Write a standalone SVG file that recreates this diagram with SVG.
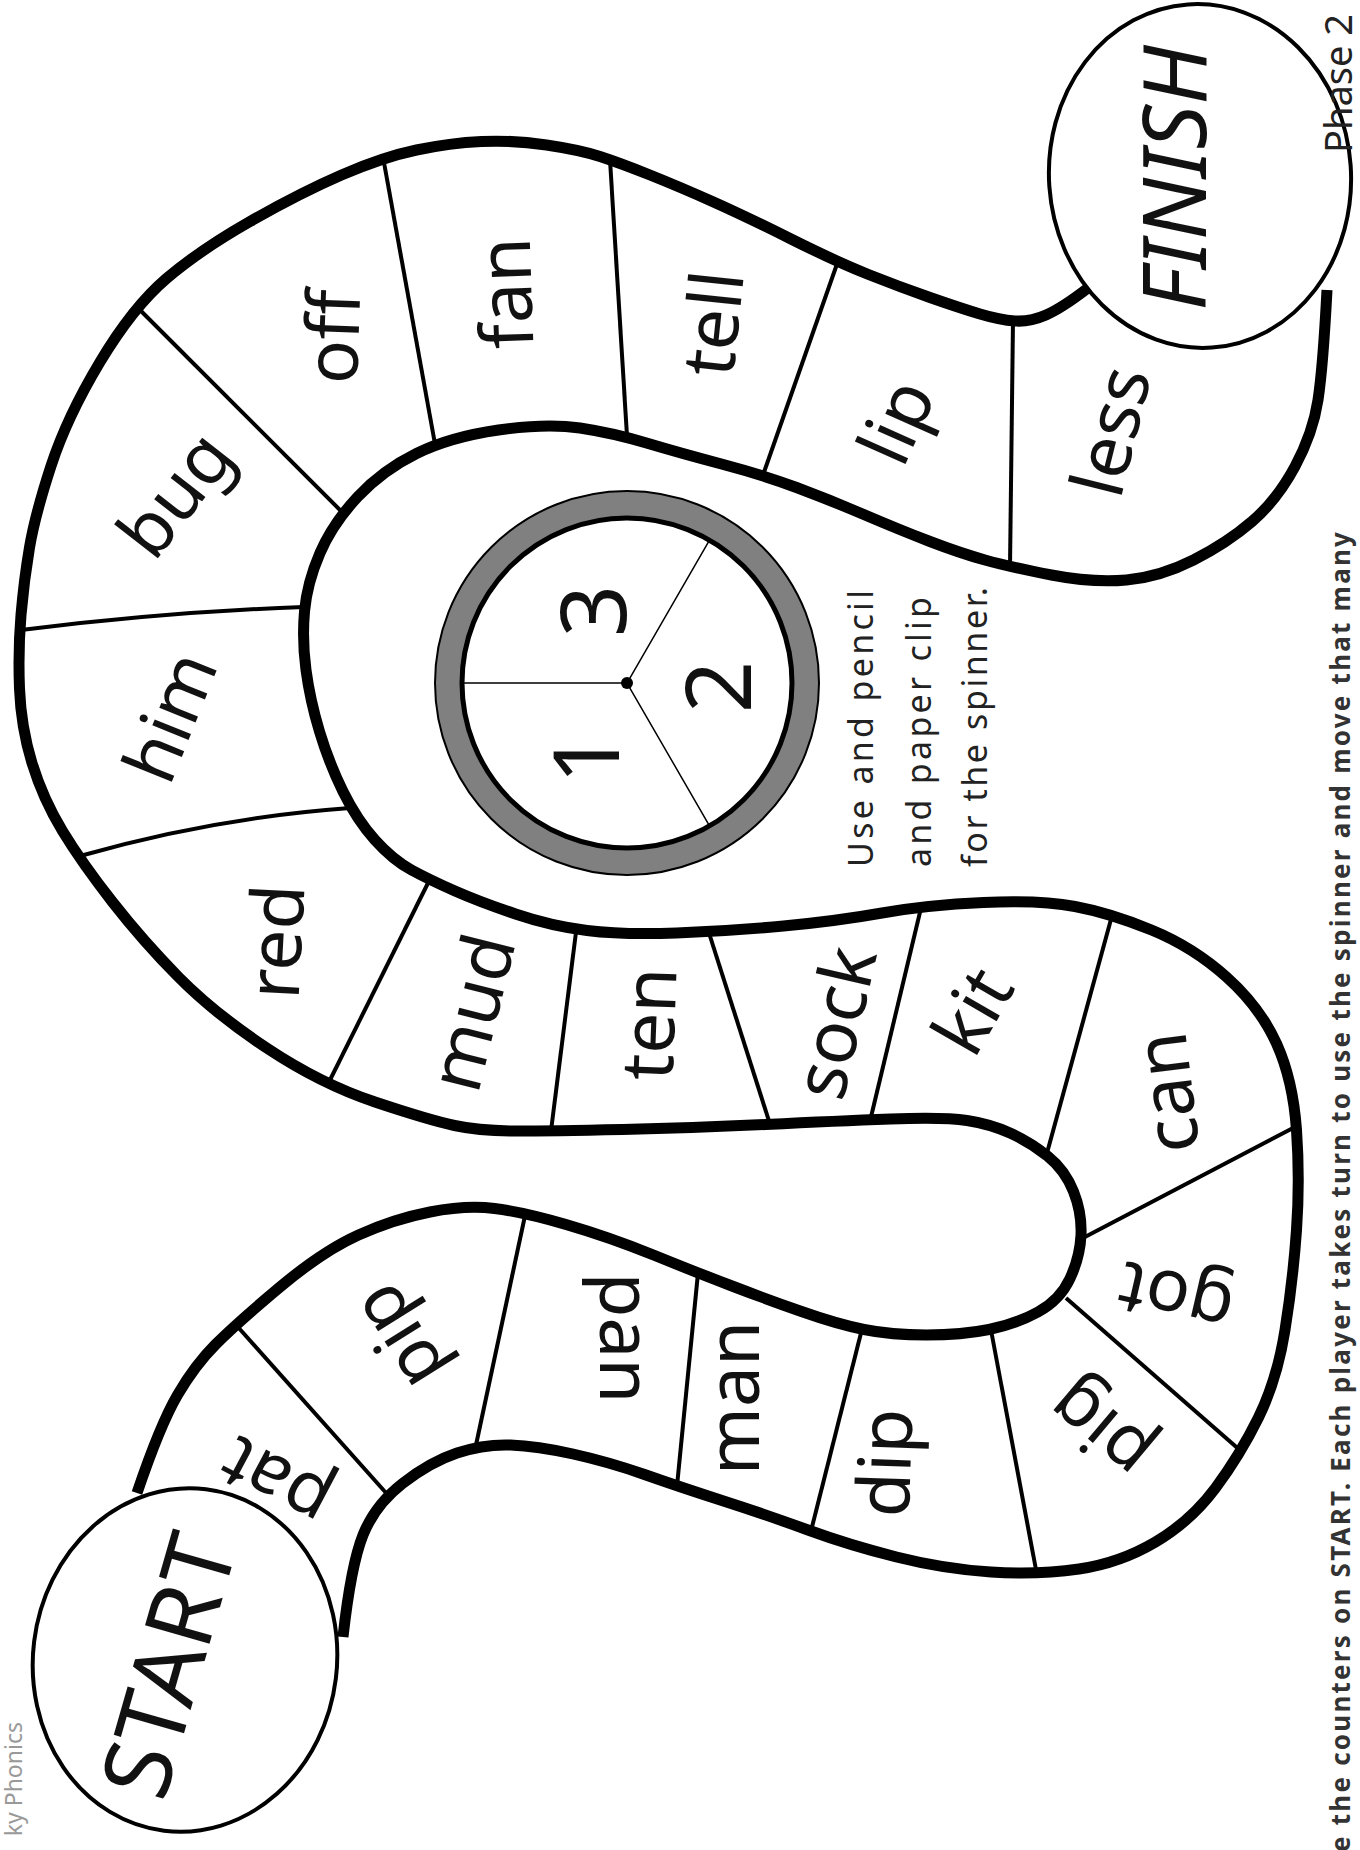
<svg xmlns="http://www.w3.org/2000/svg" width="1360" height="1850" viewBox="0 0 1360 1850">
<style>
.track{fill:none;stroke:#000;stroke-width:11;stroke-linecap:butt;stroke-linejoin:round}
.div{fill:none;stroke:#000;stroke-width:4;stroke-linecap:butt}
.word{font-family:"Noto Sans","DejaVu Sans",sans-serif;font-size:73px;fill:#111;text-anchor:middle;dominant-baseline:middle}
.big{font-family:"Noto Sans","DejaVu Sans",sans-serif;fill:#111;text-anchor:middle;dominant-baseline:central}
.num{font-family:"Noto Sans","DejaVu Sans",sans-serif;font-size:92px;fill:#111;text-anchor:middle;dominant-baseline:central}
.note{font-family:"Noto Sans","DejaVu Sans",sans-serif;font-size:34px;fill:#222}
.endcap{fill:#fff;stroke:#000;stroke-width:4}
</style>
<rect width="1360" height="1850" fill="#fff"/>

<g id="connectors">
  <g id="dividers">
    <path class="div" d="M237,1326 L387,1494"/>
    <path class="div" d="M526,1211 L476,1445"/>
    <path class="div" d="M698,1273 L677,1486"/>
    <path class="div" d="M862,1329 L811,1531"/>
    <path class="div" d="M991,1330 L1037,1575"/>
    <path class="div" d="M1066,1298 L1242,1452"/>
    <path class="div" d="M1083,1238 L1295,1127"/>
    <path class="div" d="M1047,1153 L1113,912"/>
    <path class="div" d="M871,1117 L921,908"/>
    <path class="div" d="M709,933 L769,1121"/>
    <path class="div" d="M576,932 L551,1131"/>
    <path class="div" d="M429,881 L329,1082"/>
    <path class="div" d="M350,808 Q212,818 80,856"/>
    <path class="div" d="M304,607 Q165,612 21,630"/>
    <path class="div" d="M138,308 L342,512"/>
    <path class="div" d="M383,157 L435,444"/>
    <path class="div" d="M610,160 L627,436"/>
    <path class="div" d="M837,264 L763,475"/>
    <path class="div" d="M1013,320 L1010,567"/>
  </g>
  <path id="edge-a" class="track" d="M137,1493 Q160,1425 177.5,1395 Q195,1365 216,1344 Q237,1323 280,1287 Q323,1251 358.5,1235 Q394,1219 430,1212 Q466,1205 494.5,1208.5 Q523,1212 566,1224.5 Q609,1237 653.5,1255 Q698,1273 732,1286 Q766,1299 801.5,1311.5 Q837,1324 864,1329.5 Q891,1335 926.5,1335 Q962,1335 989,1329.5 Q1016,1324 1038,1312 Q1060,1300 1070,1278.5 Q1080,1257 1081,1235 Q1082,1213 1073.5,1191.5 Q1065,1170 1047.5,1156 Q1030,1142 1010,1133 Q990,1124 967,1120.5 Q944,1117 890.5,1119 Q837,1121 765.5,1124.5 Q694,1128 622.5,1129.5 Q551,1131 515.5,1131 Q480,1131 454.5,1125.5 Q429,1120 375,1102 Q321,1084 267.5,1048.5 Q214,1013 178.5,977 Q143,941 112.5,902 Q82,863 62.5,831 Q43,799 32,763 Q21,727 19.5,688.5 Q18,650 21,615 Q24,580 29.5,547.5 Q35,515 51,466 Q67,417 100,362 Q133,307 166.5,278.5 Q200,250 250,221.5 Q300,193 341.5,175 Q383,157 416.5,150 Q450,143 481.5,141.5 Q513,140 546.5,145 Q580,150 600,156.5 Q620,163 650,175 Q680,187 713.5,202 Q747,217 792,239.5 Q837,262 868.5,274.5 Q900,287 930,297.5 Q960,308 980,314 Q1000,320 1015,321 Q1030,322 1046,315 Q1062,308 1088,288"/>
  <path id="edge-b" class="track" d="M343,1637 Q351,1565 363,1535 Q375,1505 402.5,1483.5 Q430,1462 457,1453 Q484,1444 510.5,1445 Q537,1446 573,1454 Q609,1462 644.5,1474.5 Q680,1487 723.5,1501 Q767,1515 808,1530 Q849,1545 896.5,1557 Q944,1569 991,1572 Q1038,1575 1079,1569 Q1120,1563 1155.5,1542 Q1191,1521 1215.5,1488 Q1240,1455 1258.5,1417.5 Q1277,1380 1285,1330 Q1293,1280 1296.5,1230 Q1300,1180 1296.5,1130 Q1293,1080 1276.5,1043.5 Q1260,1007 1226.5,977 Q1193,947 1151.5,930 Q1110,913 1075,906.5 Q1040,900 983.5,902.5 Q927,905 882,913 Q837,921 783.5,926 Q730,931 676.5,933 Q623,935 587,930.5 Q551,926 515.5,914 Q480,902 455,891 Q430,880 411.5,870 Q393,860 375,840 Q357,820 343,791.5 Q329,763 319.5,731.5 Q310,700 306,670 Q302,640 304.5,611.5 Q307,583 320,553 Q333,523 358,496.5 Q383,470 416.5,453.5 Q450,437 498.5,430 Q547,423 580,428 Q613,433 646.5,443 Q680,453 721.5,464 Q763,475 796.5,487.5 Q830,500 865,515 Q900,530 930,541.5 Q960,553 985,560 Q1010,567 1051.5,575 Q1093,583 1126.5,580 Q1160,577 1193.5,560 Q1227,543 1252,521.5 Q1277,500 1295,466.5 Q1313,433 1318,400 Q1323,367 1327,290"/>
</g>

<g id="start">
  <ellipse class="endcap" cx="185" cy="1660" rx="152" ry="172" transform="rotate(7 185 1660)"/>
  <text class="big" font-size="94" transform="translate(166,1665) rotate(-74)">START</text>
</g>
<g id="finish">
  <ellipse class="endcap" cx="1200" cy="176" rx="151" ry="172" transform="rotate(-4 1200 176)"/>
  <text class="big" font-size="88" font-style="italic" transform="translate(1172,178) rotate(-90)">FINISH</text>
</g>

<g id="cell-pat"><text class="word" transform="translate(278,1478) rotate(-152)">pat</text></g>
<g id="cell-pip"><text class="word" transform="translate(403,1334) rotate(-122)">pip</text></g>
<g id="cell-pan"><text class="word" transform="translate(620,1338) rotate(90)">pan</text></g>
<g id="cell-man"><text class="word" transform="translate(739,1398) rotate(-90)">man</text></g>
<g id="cell-dip"><text class="word" transform="translate(891,1463) rotate(-88)">dip</text></g>
<g id="cell-pig"><text class="word" transform="translate(1103,1426) rotate(-140)">pig</text></g>
<g id="cell-got"><text class="word" transform="translate(1177,1293) rotate(-167)">got</text></g>
<g id="cell-can"><text class="word" transform="translate(1173,1092) rotate(-97)">can</text></g>
<g id="cell-kit"><text class="word" transform="translate(978,1014) rotate(-60)">kit</text></g>
<g id="cell-sock"><text class="word" transform="translate(841,1024) rotate(-77)">sock</text></g>
<g id="cell-ten"><text class="word" transform="translate(655,1024) rotate(-88)">ten</text></g>
<g id="cell-mud"><text class="word" transform="translate(478,1014) rotate(-76)">mud</text></g>
<g id="cell-red"><text class="word" transform="translate(282,942) rotate(-87)">red</text></g>
<g id="cell-him"><text class="word" transform="translate(176,719) rotate(-68)">him</text></g>
<g id="cell-bug"><text class="word" transform="translate(180,498) rotate(-52)">bug</text></g>
<g id="cell-off"><text class="word" transform="translate(339,337) rotate(-88)">off</text></g>
<g id="cell-fan"><text class="word" transform="translate(512,293) rotate(-92)">fan</text></g>
<g id="cell-tell"><text class="word" transform="translate(719,324) rotate(-84)">tell</text></g>
<g id="cell-lip"><text class="word" transform="translate(902,424) rotate(-66)">lip</text></g>
<g id="cell-less"><text class="word" transform="translate(1117,433) rotate(-76)">less</text></g>

<g id="spinner">
  <circle cx="627" cy="683" r="192" fill="#808080" stroke="#000" stroke-width="2"/>
  <circle cx="627" cy="683" r="165" fill="#fff" stroke="#000" stroke-width="5"/>
  <path d="M627,683 L463,683 M627,683 L709.5,540.1 M627,683 L709.5,825.9" stroke="#000" stroke-width="1.5" fill="none"/>
  <circle cx="627" cy="683" r="6" fill="#000"/>
  <text class="num" transform="translate(590,611) rotate(-90)">3</text>
  <text class="num" transform="translate(715,687) rotate(-90)">2</text>
  <text class="num" transform="translate(583,758) rotate(-90)">1</text>
</g>

<g id="spinner-note">
  <text class="note" transform="translate(873,867) rotate(-90)" textLength="277" lengthAdjust="spacing">Use and pencil</text>
  <text class="note" transform="translate(931,867) rotate(-90)" textLength="270" lengthAdjust="spacing">and paper clip</text>
  <text class="note" transform="translate(987,867) rotate(-90)" textLength="280" lengthAdjust="spacing">for the spinner.</text>
</g>

<g id="labels">
  <text transform="translate(1352,153) rotate(-90)" font-family="Noto Sans, DejaVu Sans, sans-serif" font-size="38" fill="#222">Phase 2</text>
  <text transform="translate(22,1722) rotate(-90)" text-anchor="end" font-family="Noto Sans, DejaVu Sans, sans-serif" font-size="23" fill="#999">ky Phonics</text>
  <text transform="translate(1350,1852) rotate(-90)" font-family="Noto Sans, DejaVu Sans, sans-serif" font-size="26" font-weight="bold" fill="#333" textLength="1320" lengthAdjust="spacing">e the counters on START.  Each player takes turn to use the spinner and move that many</text>
</g>
</svg>
